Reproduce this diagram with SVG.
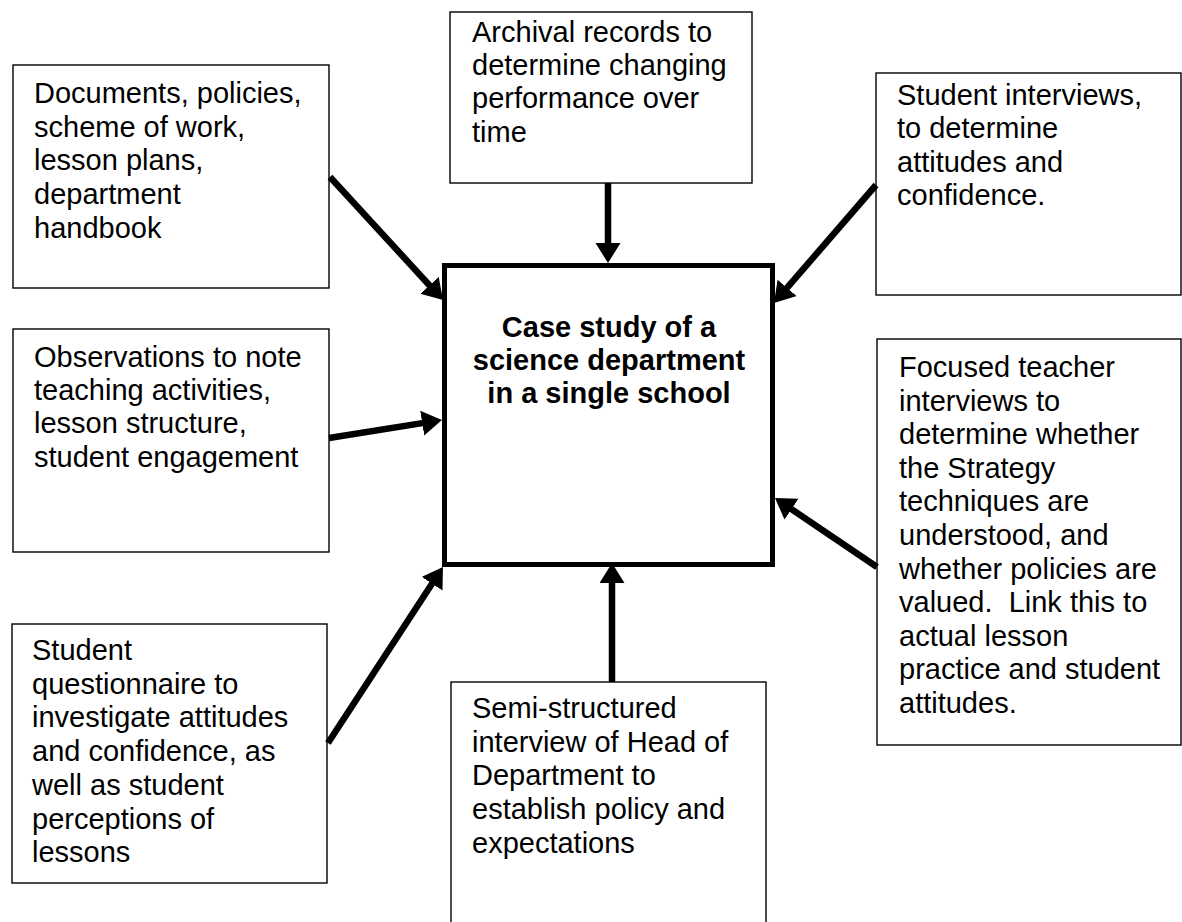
<svg xmlns="http://www.w3.org/2000/svg" width="1182" height="922" viewBox="0 0 1182 922">
<style>
  .box { fill: #fff; stroke: #000; stroke-width: 1.4; }
  .main { fill: #fff; stroke: #000; stroke-width: 5; }
  .t { font-family: "Liberation Sans", Arial, sans-serif; font-size: 29px; fill: #000; }
  .tb { font-family: "Liberation Sans", Arial, sans-serif; font-size: 29px; font-weight: bold; fill: #000; text-anchor: middle; }
  .arrow { stroke: #000; stroke-width: 6.5; fill: none; marker-end: url(#ah); }
</style>
<defs>
  <marker id="ah" markerUnits="userSpaceOnUse" markerWidth="26" markerHeight="26" refX="8" refY="12.5" orient="auto">
    <path d="M0,0 L20,12.5 L0,25 z" fill="#000"/>
  </marker>
</defs>
<rect width="1182" height="922" fill="#fff"/>

<g id="main">
  <rect class="main" x="444.5" y="265.5" width="328" height="299"/>
  <text class="tb"><tspan x="609" y="337">Case study of a</tspan><tspan x="609" y="370">science department</tspan><tspan x="609" y="403">in a single school</tspan></text>
</g>

<g id="documents">
  <rect class="box" x="13" y="65" width="316" height="223"/>
  <text class="t"><tspan x="34" y="103">Documents, policies,</tspan><tspan x="34" y="137">scheme of work,</tspan><tspan x="34" y="170">lesson plans,</tspan><tspan x="34" y="204">department</tspan><tspan x="34" y="238">handbook</tspan></text>
</g>

<g id="archival">
  <rect class="box" x="450" y="12" width="302" height="171"/>
  <text class="t"><tspan x="472" y="42">Archival records to</tspan><tspan x="472" y="75">determine changing</tspan><tspan x="472" y="108">performance over</tspan><tspan x="472" y="142">time</tspan></text>
</g>

<g id="student-interviews">
  <rect class="box" x="876" y="73" width="305" height="222"/>
  <text class="t"><tspan x="897" y="105">Student interviews,</tspan><tspan x="897" y="138">to determine</tspan><tspan x="897" y="172">attitudes and</tspan><tspan x="897" y="205">confidence.</tspan></text>
</g>

<g id="observations">
  <rect class="box" x="13" y="329" width="316" height="223"/>
  <text class="t"><tspan x="34" y="367">Observations to note</tspan><tspan x="34" y="400">teaching activities,</tspan><tspan x="34" y="433">lesson structure,</tspan><tspan x="34" y="467">student engagement</tspan></text>
</g>

<g id="focused">
  <rect class="box" x="877" y="339" width="304" height="406"/>
  <text class="t"><tspan x="899" y="377">Focused teacher</tspan><tspan x="899" y="410.6">interviews to</tspan><tspan x="899" y="444.2">determine whether</tspan><tspan x="899" y="477.8">the Strategy</tspan><tspan x="899" y="511.4">techniques are</tspan><tspan x="899" y="545">understood, and</tspan><tspan x="899" y="578.6">whether policies are</tspan><tspan x="899" y="612.2" xml:space="preserve">valued.  Link this to</tspan><tspan x="899" y="645.8">actual lesson</tspan><tspan x="899" y="679.4">practice and student</tspan><tspan x="899" y="713">attitudes.</tspan></text>
</g>

<g id="questionnaire">
  <rect class="box" x="12" y="624" width="315" height="259"/>
  <text class="t"><tspan x="32" y="660">Student</tspan><tspan x="32" y="693.7">questionnaire to</tspan><tspan x="32" y="727.4">investigate attitudes</tspan><tspan x="32" y="761.1">and confidence, as</tspan><tspan x="32" y="794.8">well as student</tspan><tspan x="32" y="828.5">perceptions of</tspan><tspan x="32" y="862">lessons</tspan></text>
</g>

<g id="semi-structured">
  <rect class="box" x="451" y="682" width="315" height="260"/>
  <text class="t"><tspan x="472" y="718">Semi-structured</tspan><tspan x="472" y="751.7">interview of Head of</tspan><tspan x="472" y="785.4">Department to</tspan><tspan x="472" y="819.1">establish policy and</tspan><tspan x="472" y="853">expectations</tspan></text>
</g>

<g id="connectors">
  <line class="arrow" x1="330" y1="177" x2="434.9" y2="291.2"/>
  <line class="arrow" x1="608" y1="183" x2="608" y2="251"/>
  <line class="arrow" x1="876" y1="185" x2="781.8" y2="293.9"/>
  <line class="arrow" x1="329" y1="438" x2="430.1" y2="421.9"/>
  <line class="arrow" x1="328" y1="743" x2="436.4" y2="577"/>
  <line class="arrow" x1="612" y1="682" x2="612" y2="575"/>
  <line class="arrow" x1="877" y1="567" x2="784.9" y2="504.7"/>
</g>
</svg>
